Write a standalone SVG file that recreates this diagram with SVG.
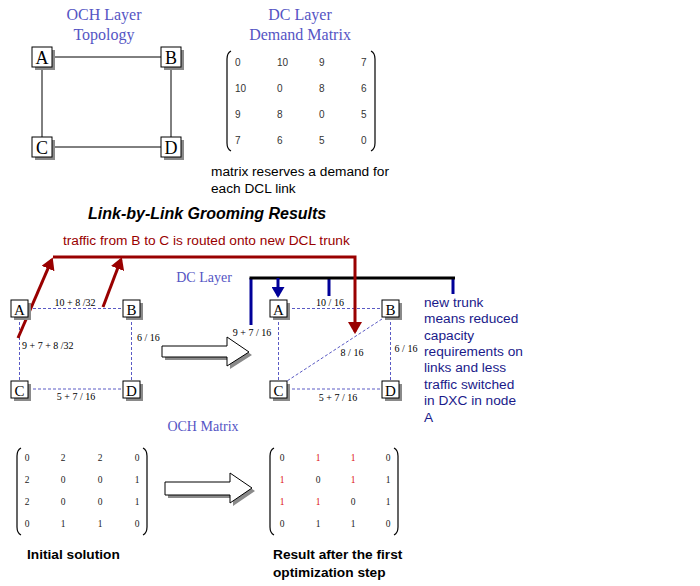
<svg xmlns="http://www.w3.org/2000/svg" width="700" height="586" viewBox="0 0 700 586">
<style>
.bg{fill:#fff}
.box{fill:#fff;stroke:#000;stroke-width:1}
.shd{fill:#8a8a8a}
.nl{font-family:"Liberation Serif",serif;fill:#000;text-anchor:middle}
.ttl{font-family:"Liberation Serif",serif;fill:#5555c4;text-anchor:middle}
.solid{stroke:#000;stroke-width:1;fill:none}
.dash{stroke:#5a5ac4;stroke-width:1;stroke-dasharray:3 2;fill:none}
.lbl{font-family:"Liberation Serif",serif;font-size:10px;fill:#000}
.mv{font-family:"Liberation Sans",sans-serif;font-size:10px;fill:#333}
.ms{font-family:"Liberation Serif",serif;font-size:9.5px;fill:#222;text-anchor:middle}
.red{fill:#dd1111}
.brk{stroke:#000;stroke-width:1.2;fill:none}
.sans{font-family:"Liberation Sans",sans-serif;font-size:13.7px}
.bold{font-family:"Liberation Sans",sans-serif;font-size:13.7px;font-weight:bold;fill:#000}
.rl{stroke:#990000;stroke-width:3;fill:none}
.bl{stroke:#000099;stroke-width:3;fill:none}
.big{fill:#fff;stroke:#000;stroke-width:1}
</style>
<defs>
<marker id="ar" markerUnits="userSpaceOnUse" viewBox="0 0 12 14" markerWidth="12" markerHeight="14" refX="9.4" refY="7" orient="auto"><path d="M0,0 L12,7 L0,14 z" fill="#990000"/></marker>
<marker id="ab" markerUnits="userSpaceOnUse" viewBox="0 0 11 13" markerWidth="11" markerHeight="13" refX="8.5" refY="6.5" orient="auto"><path d="M0,0 L11,6.5 L0,13 z" fill="#000099"/></marker>
</defs>
<rect class="bg" x="0" y="0" width="700" height="586"/>

<!-- Top titles -->
<text class="ttl" x="104" y="20" font-size="16">OCH Layer</text>
<text class="ttl" x="104" y="40" font-size="16">Topology</text>
<text class="ttl" x="300" y="20" font-size="16">DC Layer</text>
<text class="ttl" x="300" y="40" font-size="16">Demand Matrix</text>

<!-- Connectors -->
<g id="connectors">
  <path class="solid" d="M52,57 H161 M42,67 V137 M171,67 V137 M52,147 H161"/>
  <path class="dash" d="M28,308.5 H123 M19.5,317 V381 M131.5,317 V381 M28,389 H123"/>
  <path class="dash" d="M287,308.5 H382 M278.5,317 V381 M390.5,317 V381 M287,389 H382 M382,319 L287,381"/>
  <path class="bl" d="M251,325 V278 M329,278 V296 M453,278 V294"/>
  <path d="M249.5,278 H455" stroke="#000" stroke-width="3" fill="none"/>
  <path class="bl" d="M278,278 V295.5" marker-end="url(#ab)"/>
  <path class="rl" d="M18,338 L51.7,259.9" marker-end="url(#ar)"/>
  <path class="rl" d="M103,307 L120.9,259.8" marker-end="url(#ar)"/>
  <path class="rl" d="M53,257 H355 V331.5" marker-end="url(#ar)"/>
</g>

<!-- Top topology nodes -->
<g id="top-A"><rect class="shd" x="35" y="50" width="20" height="20"/><rect class="box" x="32" y="47" width="20" height="20"/><text class="nl" x="42" y="63.5" font-size="18">A</text></g>
<g id="top-B"><rect class="shd" x="164" y="50" width="20" height="20"/><rect class="box" x="161" y="47" width="20" height="20"/><text class="nl" x="171" y="63.5" font-size="18">B</text></g>
<g id="top-C"><rect class="shd" x="35" y="140" width="20" height="20"/><rect class="box" x="32" y="137" width="20" height="20"/><text class="nl" x="42" y="153.5" font-size="18">C</text></g>
<g id="top-D"><rect class="shd" x="164" y="140" width="20" height="20"/><rect class="box" x="161" y="137" width="20" height="20"/><text class="nl" x="171" y="153.5" font-size="18">D</text></g>

<!-- DC demand matrix -->
<g id="demand-matrix">
  <path class="brk" d="M231,51 Q227,53 227,59 V143 Q227,149 231,151"/>
  <path class="brk" d="M371,51 Q375,53 375,59 V143 Q375,149 371,151"/>
  <text class="mv" x="235" y="66">0</text><text class="mv" x="277" y="66">10</text><text class="mv" x="319" y="66">9</text><text class="mv" x="361" y="66">7</text>
  <text class="mv" x="235" y="92">10</text><text class="mv" x="277" y="92">0</text><text class="mv" x="319" y="92">8</text><text class="mv" x="361" y="92">6</text>
  <text class="mv" x="235" y="118">9</text><text class="mv" x="277" y="118">8</text><text class="mv" x="319" y="118">0</text><text class="mv" x="361" y="118">5</text>
  <text class="mv" x="235" y="144">7</text><text class="mv" x="277" y="144">6</text><text class="mv" x="319" y="144">5</text><text class="mv" x="361" y="144">0</text>
</g>
<text class="sans" x="211" y="176" fill="#000">matrix reserves a demand for</text>
<text class="sans" x="211" y="193" fill="#000">each DCL link</text>

<text x="88" y="219" font-family="Liberation Sans,sans-serif" font-size="16" font-weight="bold" font-style="italic" fill="#000">Link-by-Link Grooming Results</text>
<text class="sans" x="63" y="245" fill="#990000" font-size="13.9">traffic from B to C is routed onto new DCL trunk</text>
<text class="ttl" x="204" y="282" font-size="14">DC Layer</text>

<!-- Middle left graph nodes -->
<g id="mid-A"><rect class="shd" x="14" y="303" width="17" height="17"/><rect class="box" x="11" y="300" width="17" height="17"/><text class="nl" x="19.5" y="314.5" font-size="15">A</text></g>
<g id="mid-B"><rect class="shd" x="126" y="303" width="17" height="17"/><rect class="box" x="123" y="300" width="17" height="17"/><text class="nl" x="131.5" y="314.5" font-size="15">B</text></g>
<g id="mid-C"><rect class="shd" x="14" y="384" width="17" height="17"/><rect class="box" x="11" y="381" width="17" height="17"/><text class="nl" x="19.5" y="395.5" font-size="15">C</text></g>
<g id="mid-D"><rect class="shd" x="126" y="384" width="17" height="17"/><rect class="box" x="123" y="381" width="17" height="17"/><text class="nl" x="131.5" y="395.5" font-size="15">D</text></g>
<text class="lbl" x="75" y="306" text-anchor="middle">10 + 8 /32</text>
<text class="lbl" x="22" y="349">9 + 7 + 8 /32</text>
<text class="lbl" x="137" y="341">6 / 16</text>
<text class="lbl" x="76" y="400" text-anchor="middle">5 + 7 / 16</text>

<!-- middle hollow arrow -->
<g id="arrow-mid">
  <polygon class="shd" points="165,349 230,349 230,340 252,355 230,369 230,360 165,360"/>
  <polygon class="big" points="162,346 227,346 227,337 249,352 227,366 227,357 162,357"/>
</g>

<!-- Middle right graph nodes -->
<g id="res-A"><rect class="shd" x="273" y="303" width="17" height="17"/><rect class="box" x="270" y="300" width="17" height="17"/><text class="nl" x="278.5" y="314.5" font-size="15">A</text></g>
<g id="res-B"><rect class="shd" x="385" y="303" width="17" height="17"/><rect class="box" x="382" y="300" width="17" height="17"/><text class="nl" x="390.5" y="314.5" font-size="15">B</text></g>
<g id="res-C"><rect class="shd" x="273" y="384" width="17" height="17"/><rect class="box" x="270" y="381" width="17" height="17"/><text class="nl" x="278.5" y="395.5" font-size="15">C</text></g>
<g id="res-D"><rect class="shd" x="385" y="384" width="17" height="17"/><rect class="box" x="382" y="381" width="17" height="17"/><text class="nl" x="390.5" y="395.5" font-size="15">D</text></g>
<text class="lbl" x="330" y="306" text-anchor="middle">10 / 16</text>
<text class="lbl" x="252" y="336" text-anchor="middle">9 + 7 / 16</text>
<text class="lbl" x="352" y="356" text-anchor="middle">8 / 16</text>
<text class="lbl" x="406" y="352" text-anchor="middle">6 / 16</text>
<text class="lbl" x="338" y="401" text-anchor="middle">5 + 7 / 16</text>

<!-- note -->
<g class="sans" fill="#1a1a8a">
  <text x="424" y="306.7">new trunk</text>
  <text x="424" y="323.1">means reduced</text>
  <text x="424" y="339.5">capacity</text>
  <text x="424" y="356">requirements on</text>
  <text x="424" y="372.4">links and less</text>
  <text x="424" y="388.8">traffic switched</text>
  <text x="424" y="405.3">in DXC in node</text>
  <text x="424" y="421.7">A</text>
</g>

<text class="ttl" x="203" y="431" font-size="14">OCH Matrix</text>

<!-- initial OCH matrix -->
<g id="och-initial">
  <path class="brk" d="M21,448 Q17,450 17,456 V527 Q17,533 21,535"/>
  <path class="brk" d="M143,448 Q147,450 147,456 V527 Q147,533 143,535"/>
  <text class="ms" x="27" y="461">0</text><text class="ms" x="63" y="461">2</text><text class="ms" x="100" y="461">2</text><text class="ms" x="137" y="461">0</text>
  <text class="ms" x="27" y="483">2</text><text class="ms" x="63" y="483">0</text><text class="ms" x="100" y="483">0</text><text class="ms" x="137" y="483">1</text>
  <text class="ms" x="27" y="505">2</text><text class="ms" x="63" y="505">0</text><text class="ms" x="100" y="505">0</text><text class="ms" x="137" y="505">1</text>
  <text class="ms" x="27" y="527">0</text><text class="ms" x="63" y="527">1</text><text class="ms" x="100" y="527">1</text><text class="ms" x="137" y="527">0</text>
</g>

<g id="arrow-bottom">
  <polygon class="shd" points="168,485 233,485 233,476 255,491 233,506 233,498 168,498"/>
  <polygon class="big" points="165,482 230,482 230,473 252,488 230,503 230,495 165,495"/>
</g>

<!-- result OCH matrix -->
<g id="och-result">
  <path class="brk" d="M274,448 Q270,450 270,456 V527 Q270,533 274,535"/>
  <path class="brk" d="M394,448 Q398,450 398,456 V527 Q398,533 394,535"/>
  <text class="ms" x="282" y="461">0</text><text class="ms red" x="318" y="461">1</text><text class="ms red" x="353" y="461">1</text><text class="ms" x="388" y="461">0</text>
  <text class="ms red" x="282" y="483">1</text><text class="ms" x="318" y="483">0</text><text class="ms red" x="353" y="483">1</text><text class="ms" x="388" y="483">1</text>
  <text class="ms red" x="282" y="505">1</text><text class="ms red" x="318" y="505">1</text><text class="ms" x="353" y="505">0</text><text class="ms" x="388" y="505">1</text>
  <text class="ms" x="282" y="527">0</text><text class="ms" x="318" y="527">1</text><text class="ms" x="353" y="527">1</text><text class="ms" x="388" y="527">0</text>
</g>

<text class="bold" x="27" y="559">Initial solution</text>
<text class="bold" x="273" y="559">Result after the first</text>
<text class="bold" x="273" y="577">optimization step</text>
</svg>
